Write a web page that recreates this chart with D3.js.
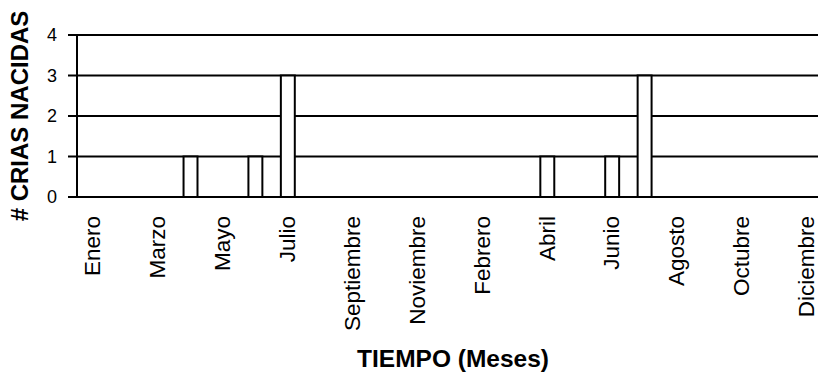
<!DOCTYPE html>
<html>
<head>
<meta charset="utf-8">
<script src="https://cdn.jsdelivr.net/npm/d3@7"></script>
<style>
  body { margin: 0; background: #fff; }
  svg { display: block; font-family: "Liberation Sans", Arial, sans-serif; }
</style>
</head>
<body>
<div id="chart"></div>
<script>
// months over two years (January of the 2nd year is absent in the source)
const meses = ["Enero", "Febrero", "Marzo", "Abril", "Mayo", "Junio", "Julio", "Agosto",
  "Septiembre", "Octubre", "Noviembre", "Diciembre",
  "Febrero", "Marzo", "Abril", "Mayo", "Junio", "Julio", "Agosto",
  "Septiembre", "Octubre", "Noviembre", "Diciembre"];
const crias = [0, 0, 0, 1, 0, 1, 3, 0, 0, 0, 0, 0,
  0, 0, 1, 0, 1, 3, 0, 0, 0, 0, 0];
const yTicks = [0, 1, 2, 3, 4];

const W = 818, H = 374;
const margin = {top: 35, left: 77, bottom: 177};
const plotRight = 823; // plot runs slightly past the image edge
const y0 = H - margin.bottom;

const svg = d3.select("#chart").append("svg")
  .attr("width", W)
  .attr("height", H);

const idx = meses.map((m, i) => i);
const x = d3.scaleBand()
  .domain(idx)
  .range([margin.left, plotRight])
  .paddingInner(0.57)
  .paddingOuter(0.285);

const y = d3.scaleLinear()
  .domain([0, 4])
  .range([y0, margin.top]);

// horizontal gridlines, with the short ticks left of the axis
svg.append("g")
  .selectAll("line")
  .data(yTicks)
  .join("line")
    .attr("x1", margin.left - 9)
    .attr("x2", W)
    .attr("y1", d => y(d))
    .attr("y2", d => y(d))
    .attr("stroke", "#000")
    .attr("stroke-width", 2);

// bars
svg.append("g")
  .selectAll("rect")
  .data(crias)
  .join("rect")
    .attr("x", (d, i) => x(i))
    .attr("y", d => y(d))
    .attr("width", x.bandwidth())
    .attr("height", d => y0 - y(d))
    .attr("fill", "#fff")
    .attr("stroke", "#000")
    .attr("stroke-width", 2);

// y axis line
svg.append("line")
  .attr("x1", margin.left)
  .attr("x2", margin.left)
  .attr("y1", y(4))
  .attr("y2", y(0))
  .attr("stroke", "#000")
  .attr("stroke-width", 2);

// y tick labels
svg.append("g")
  .selectAll("text")
  .data(yTicks)
  .join("text")
    .attr("x", margin.left - 20)
    .attr("y", d => y(d))
    .attr("dy", "0.36em")
    .attr("text-anchor", "end")
    .attr("fill", "#000")
    .style("font-size", "18px")
    .text(d => d);

// x axis, labels every other month
const xAxis = svg.append("g")
  .attr("transform", `translate(0,${y0})`)
  .call(d3.axisBottom(x)
    .tickValues(idx.filter(i => i % 2 === 0))
    .tickFormat(i => meses[i])
    .tickSize(0));
xAxis.select(".domain").remove();
xAxis.selectAll("text")
  .attr("fill", "#000")
  .attr("transform", "rotate(-90)")
  .attr("text-anchor", "end")
  .attr("x", -19)
  .attr("y", 0)
  .attr("dy", "0.32em")
  .style("font-size", "22.5px")
  .style("font-family", "Liberation Sans, Arial, sans-serif");

// axis titles
svg.append("text")
  .attr("transform", "rotate(-90)")
  .attr("x", -116)
  .attr("y", 28)
  .attr("text-anchor", "middle")
  .style("font-size", "24px")
  .style("font-weight", "bold")
  .text("# CRIAS NACIDAS");

svg.append("text")
  .attr("x", 453)
  .attr("y", 367)
  .attr("text-anchor", "middle")
  .style("font-size", "24.5px")
  .style("font-weight", "bold")
  .text("TIEMPO (Meses)");
</script>
</body>
</html>
